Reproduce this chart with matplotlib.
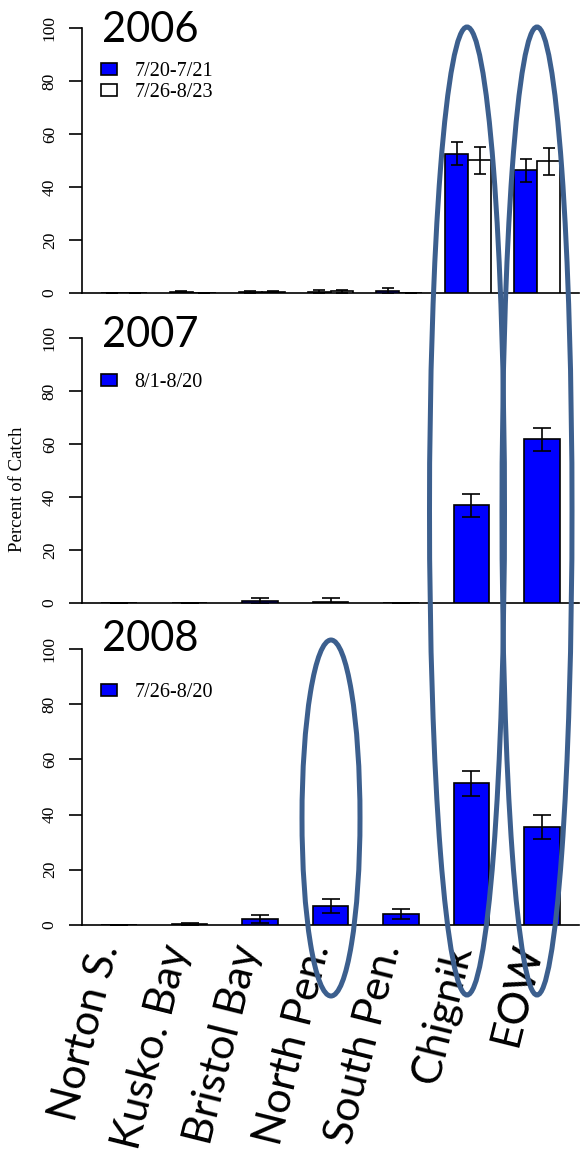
import matplotlib
matplotlib.use("Agg")
import matplotlib.pyplot as plt
from matplotlib.patches import Ellipse, Patch
from matplotlib.transforms import offset_copy
import numpy as np

# ============= data
regions = ["Norton S.", "Kusko. Bay", "Bristol Bay", "North Pen.", "South Pen.", "Chignik", "EOW"]

years = ["2006", "2007", "2008"]

# 2006 : two sampling periods
pct_2006_a = [0.0, 0.5, 0.4, 0.5, 0.8, 52.6, 46.4]
err_2006_a = [0.0, 0.3, 0.3, 0.5, 1.2, 4.3, 4.4]
pct_2006_b = [0.0, 0.1, 0.5, 0.6, 0.1, 50.1, 49.7]
err_2006_b = [0.0, 0.0, 0.3, 0.5, 0.0, 5.0, 5.0]
period_2006 = ["7/20-7/21", "7/26-8/23"]

# 2007
pct_2007 = [0.1, 0.1, 0.7, 0.5, 0.1, 36.8, 61.7]
err_2007 = [0.0, 0.0, 1.1, 1.4, 0.0, 4.2, 4.4]
period_2007 = "8/1-8/20"

# 2008
pct_2008 = [0.1, 0.4, 2.3, 7.0, 3.9, 51.4, 35.5]
err_2008 = [0.0, 0.3, 1.5, 2.6, 1.8, 4.5, 4.4]
period_2008 = "7/26-8/20"

y_ticks = [0, 20, 40, 60, 80, 100]

# ============= size
W, H = 586, 1154
my_dpi = 100
fig = plt.figure(figsize=(W / my_dpi, H / my_dpi), dpi=my_dpi)

BLUE = "#0000FF"
RING = "#3C5F8E"
SERIF = "Liberation Serif"
SANS = "Lato"
LW = 1.2


def px_axes(left, right, top, bottom):
    # pixel box -> figure fraction
    return fig.add_axes([left / W, 1 - bottom / H, (right - left) / W, (bottom - top) / H])


def style_axis(ax, xlim):
    ax.set_xlim(xlim)
    ax.set_ylim(0, 100)
    for s in ["top", "right", "bottom"]:
        ax.spines[s].set_visible(False)
    ax.spines["left"].set_linewidth(LW)
    ax.spines["left"].set_bounds(0, 100)
    ax.axhline(0, color="black", linewidth=LW, zorder=1, clip_on=False)
    ax.set_xticks([])
    ax.set_yticks(y_ticks)
    ax.set_yticklabels([str(v) for v in y_ticks], rotation=90, va="center",
                       family=SERIF, fontsize=12.5)
    ax.tick_params(axis="y", length=9.4, width=LW, pad=8)
    ax.patch.set_visible(False)


def legend(ax, labels, colors, top_px):
    handles = [Patch(facecolor=c, edgecolor="black", linewidth=LW) for c in colors]
    ax.legend(handles, labels, loc="upper left",
              bbox_to_anchor=(101 / W, 1 - top_px / H), bbox_transform=fig.transFigure,
              frameon=False, borderpad=0, borderaxespad=0,
              handlelength=0.8, handleheight=0.55, handletextpad=0.85,
              labelspacing=0.12, prop={"family": SERIF, "size": 14.5})


x = np.arange(len(regions))

# ---- 2006
ax1 = px_axes(82, 579, 28.3, 293)
style_axis(ax1, (-0.61, 6.61))
w2 = 0.334
ax1.bar(x - w2 / 2, pct_2006_a, w2, color=BLUE, edgecolor="black", linewidth=LW, zorder=2)
ax1.bar(x + w2 / 2, pct_2006_b, w2, color="white", edgecolor="black", linewidth=LW, zorder=2)
ax1.errorbar(x - w2 / 2, pct_2006_a, yerr=err_2006_a, fmt="none", ecolor="black",
             elinewidth=LW, capsize=4.6, capthick=LW, zorder=3)
ax1.errorbar(x + w2 / 2, pct_2006_b, yerr=err_2006_b, fmt="none", ecolor="black",
             elinewidth=LW, capsize=4.6, capthick=LW, zorder=3)
legend(ax1, period_2006, [BLUE, "white"], 62)

# ---- 2007
ax2 = px_axes(82, 579, 338, 603)
style_axis(ax2, (-0.525, 6.525))
w1 = 0.504
ax2.bar(x, pct_2007, w1, color=BLUE, edgecolor="black", linewidth=LW, zorder=2)
ax2.errorbar(x, pct_2007, yerr=err_2007, fmt="none", ecolor="black",
             elinewidth=LW, capsize=6.8, capthick=LW, zorder=3)
legend(ax2, [period_2007], [BLUE], 373)

# ---- 2008
ax3 = px_axes(82, 579, 649, 925)
style_axis(ax3, (-0.525, 6.525))
ax3.bar(x, pct_2008, w1, color=BLUE, edgecolor="black", linewidth=LW, zorder=2)
ax3.errorbar(x, pct_2008, yerr=err_2008, fmt="none", ecolor="black",
             elinewidth=LW, capsize=6.8, capthick=LW, zorder=3)
legend(ax3, [period_2008], [BLUE], 683)

# big year titles
for yr, base in zip(years, [42, 347, 651]):
    fig.text(102 / W, 1 - base / H, yr, family=SANS, fontsize=30, va="baseline", ha="left")

fig.text(18 / W, 1 - 489 / H, "Percent of Catch", rotation=90, ha="center", va="center",
         family=SERIF, fontsize=13.5)

# slanted region names under the last panel
lab_tr = offset_copy(ax3.transData, fig=fig, x=-12, y=-20, units="dots")
for i, name in enumerate(regions):
    ax3.text(x[i], 0, name, transform=lab_tr, rotation=76, rotation_mode="anchor",
             ha="right", va="center", family=SANS, fontsize=31, clip_on=False)

# rings drawn over the figure
for cx, cy, a, b in [(467, 511, 37.5, 484), (537, 511, 35, 484), (331, 818, 29, 178)]:
    fig.add_artist(Ellipse((cx / W, 1 - cy / H), 2 * a / W, 2 * b / H, transform=fig.transFigure,
                           fill=False, edgecolor=RING, linewidth=3.6, zorder=10))

plt.savefig("out.png", dpi=my_dpi)
